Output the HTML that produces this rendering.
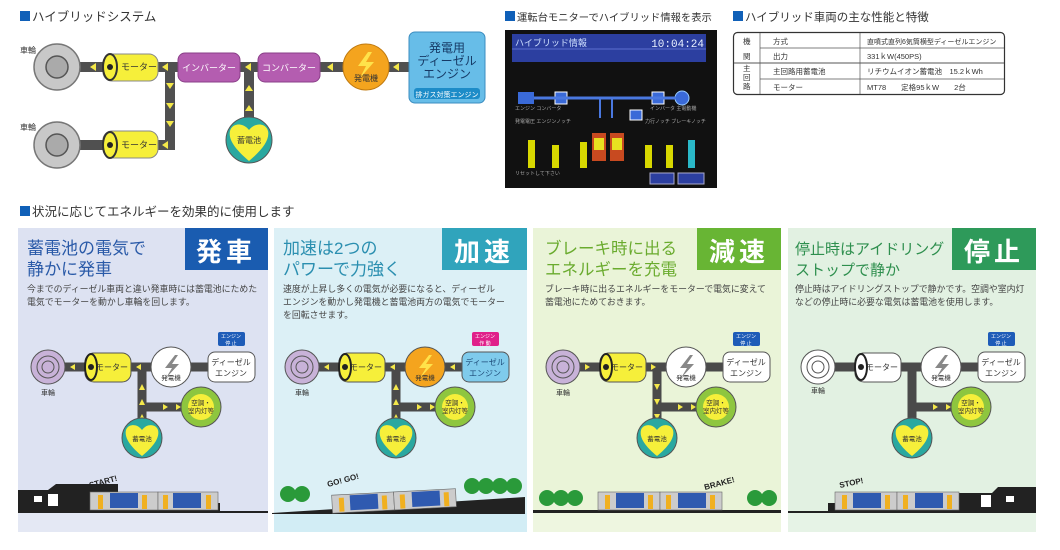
<!DOCTYPE html>
<html><head><meta charset="utf-8">
<style>
html,body{margin:0;padding:0;background:#fff;}
svg{display:block;font-family:"Liberation Sans","Noto Sans CJK JP",sans-serif;}
</style></head><body>
<svg width="1060" height="550" viewBox="0 0 1060 550" xmlns="http://www.w3.org/2000/svg">
<rect width="1060" height="550" fill="#fff"/>

<!-- ===== TOP: Hybrid system ===== -->
<rect x="20" y="11" width="10" height="10" fill="#1060b8"/>
<text x="32" y="21" font-size="12.5" fill="#333">ハイブリッドシステム</text>

<g stroke="#505050" stroke-width="10" fill="none">
  <path d="M57 67 H410"/>
  <path d="M57 145 H170 V67"/>
  <path d="M249 140 V67"/>
</g>
<g fill="#f4e84a">
  <polygon points="90,67 96,63 96,71"/>
  <polygon points="162,67 168,63 168,71"/>
  <polygon points="245,67 251,63 251,71"/>
  <polygon points="327,67 333,63 333,71"/>
  <polygon points="393,67 399,63 399,71"/>
  <polygon points="162,145 168,141 168,149"/>
  <polygon points="166,83 174,83 170,89"/>
  <polygon points="166,103 174,103 170,109"/>
  <polygon points="166,121 174,121 170,127"/>
  <polygon points="245,91 253,91 249,85"/>
  <polygon points="245,111 253,111 249,105"/>
</g>
<g>
  <circle cx="57" cy="67" r="23" fill="#c8c8c8" stroke="#777" stroke-width="1.5"/>
  <circle cx="57" cy="67" r="11" fill="#aaa" stroke="#555" stroke-width="1.5"/>
  <circle cx="57" cy="145" r="23" fill="#c8c8c8" stroke="#777" stroke-width="1.5"/>
  <circle cx="57" cy="145" r="11" fill="#aaa" stroke="#555" stroke-width="1.5"/>
</g>
<text x="20" y="53" font-size="8" fill="#333">車輪</text>
<text x="20" y="130" font-size="8" fill="#333">車輪</text>
<g>
  <rect x="103" y="54" width="55" height="27" rx="9" fill="#f6ef3a" stroke="#888"/>
  <ellipse cx="110" cy="67" rx="7" ry="13" fill="#f6ef3a" stroke="#333" stroke-width="2"/>
  <circle cx="110" cy="67" r="3" fill="#222"/>
  <text x="121" y="70" font-size="9" fill="#333">モーター</text>
  <rect x="103" y="131" width="55" height="27" rx="9" fill="#f6ef3a" stroke="#888"/>
  <ellipse cx="110" cy="145" rx="7" ry="13" fill="#f6ef3a" stroke="#333" stroke-width="2"/>
  <circle cx="110" cy="145" r="3" fill="#222"/>
  <text x="121" y="148" font-size="9" fill="#333">モーター</text>
</g>
<rect x="178" y="53" width="62" height="29" rx="7" fill="#b45db0" stroke="#8a3f88"/>
<text x="209" y="71" font-size="9" fill="#fff" text-anchor="middle">インバーター</text>
<rect x="258" y="53" width="62" height="29" rx="7" fill="#b45db0" stroke="#8a3f88"/>
<text x="289" y="71" font-size="9" fill="#fff" text-anchor="middle">コンバーター</text>
<circle cx="366" cy="67" r="23" fill="#f4a41e" stroke="#c07a10"/>
<polygon points="368,52 358,66 366,66 360,78 374,62 366,62 372,52" fill="#ffe24a"/>
<text x="366" y="81" font-size="8" fill="#333" text-anchor="middle">発電機</text>
<rect x="409" y="32" width="76" height="71" rx="6" fill="#67bde8" stroke="#3b8dc0"/>
<text x="447" y="52" font-size="12" fill="#163a66" text-anchor="middle">発電用</text>
<text x="447" y="65" font-size="12" fill="#163a66" text-anchor="middle">ディーゼル</text>
<text x="447" y="78" font-size="12" fill="#163a66" text-anchor="middle">エンジン</text>
<rect x="414" y="88" width="66" height="11" rx="3" fill="#1d8cc8"/>
<text x="447" y="97" font-size="7" fill="#fff" text-anchor="middle">排ガス対策エンジン</text>
<circle cx="249" cy="140" r="23" fill="#2aa8a0" stroke="#555"/>
<path d="M249 161 C236 150 228 140 230 131 C232 123 243 122 249 130 C255 122 266 123 268 131 C270 140 262 150 249 161Z" fill="#f6ef3a"/>
<text x="249" y="143" font-size="8" fill="#333" text-anchor="middle">蓄電池</text>

<!-- ===== Monitor ===== -->
<rect x="505" y="11" width="10" height="10" fill="#1060b8"/>
<text x="517" y="21" font-size="10.3" fill="#333">運転台モニターでハイブリッド情報を表示</text>
<rect x="505" y="30" width="212" height="158" fill="#111"/>
<rect x="512" y="34" width="194" height="28" fill="#2c3fa0"/>
<text x="515" y="46" font-size="9" fill="#cfe0ff">ハイブリッド情報</text>
<text x="704" y="47" font-size="11" fill="#e8f0ff" text-anchor="end" font-family="Liberation Mono,monospace">10:04:24</text>
<line x1="512" y1="49" x2="706" y2="49" stroke="#8aa0ff" stroke-width="0.6"/>
<rect x="518" y="92" width="16" height="12" fill="#3a6ad8"/>
<rect x="555" y="92" width="12" height="12" fill="#3a6ad8" stroke="#fff"/>
<rect x="652" y="92" width="12" height="12" fill="#3a6ad8" stroke="#fff"/>
<circle cx="682" cy="98" r="7" fill="#3a6ad8" stroke="#9cf"/>
<line x1="534" y1="98" x2="676" y2="98" stroke="#4a78e0" stroke-width="3"/>
<path d="M600 98 V118 M612 98 V118" stroke="#4a78e0" stroke-width="2"/>
<rect x="630" y="110" width="12" height="10" fill="#3a6ad8" stroke="#fff"/>
<g fill="#d8d800">
  <rect x="528" y="140" width="7" height="28"/><rect x="552" y="145" width="7" height="23"/>
  <rect x="580" y="142" width="7" height="26"/><rect x="645" y="145" width="7" height="23"/>
  <rect x="666" y="145" width="7" height="23"/>
</g>
<rect x="688" y="140" width="7" height="28" fill="#2ab8c8"/>
<rect x="592" y="133" width="14" height="28" fill="#c84a20"/>
<rect x="610" y="133" width="14" height="28" fill="#c84a20"/>
<rect x="594" y="138" width="10" height="12" fill="#e8e020"/>
<rect x="612" y="138" width="10" height="12" fill="#e8e020"/>
<g fill="#aaa" font-size="5">
  <text x="515" y="110">エンジン  コンバータ</text>
  <text x="515" y="123">発電電圧 エンジンノッチ</text>
  <text x="650" y="110">インバータ 主電動機</text>
  <text x="645" y="123">力行ノッチ ブレーキノッチ</text>
  <text x="515" y="175">リセットして下さい</text>
</g>
<rect x="650" y="173" width="24" height="11" fill="#2c3fa0" stroke="#aac"/>
<rect x="678" y="173" width="26" height="11" fill="#2c3fa0" stroke="#aac"/>

<!-- ===== Table ===== -->
<rect x="733" y="11" width="10" height="10" fill="#1060b8"/>
<text x="745" y="21" font-size="11.5" fill="#333">ハイブリッド車両の主な性能と特徴</text>
<rect x="733.5" y="32.5" width="271" height="62" rx="4" fill="#fff" stroke="#333" stroke-width="1.2"/>
<g stroke="#555" stroke-width="0.7">
  <line x1="760" y1="33" x2="760" y2="94"/>
  <line x1="860" y1="33" x2="860" y2="94"/>
  <line x1="760" y1="48" x2="1004" y2="48"/>
  <line x1="734" y1="63" x2="1004" y2="63" stroke-width="1.1"/>
  <line x1="760" y1="79" x2="1004" y2="79"/>
</g>
<g font-size="7.5" fill="#333">
  <text x="743" y="44">機</text><text x="743" y="59">関</text>
  <text x="743" y="71">主</text><text x="743" y="80">回</text><text x="743" y="89">路</text>
  <text x="773" y="44">方式</text><text x="773" y="59">出力</text>
  <text x="773" y="74">主回路用蓄電池</text><text x="773" y="90">モーター</text>
  <text x="867" y="44" font-size="7">直噴式直列6気筒横型ディーゼルエンジン</text>
  <text x="867" y="59">331ｋW(450PS)</text>
  <text x="867" y="74">リチウムイオン蓄電池　15.2ｋWh</text>
  <text x="867" y="90">MT78　　定格95ｋW　　2台</text>
</g>

<!-- ===== Section title ===== -->
<rect x="20" y="206" width="10" height="10" fill="#1060b8"/>
<text x="32" y="216" font-size="12.5" fill="#333">状況に応じてエネルギーを効果的に使用します</text>

<!-- ===== PANEL 1 ===== -->
<g transform="translate(18,0)">
  <rect x="0" y="228" width="250" height="304" fill="#dde2f2"/>
  <rect x="0" y="513" width="250" height="19" fill="#e4e8f4"/>
  <rect x="167" y="228" width="83" height="42" fill="#1a5cb0"/>
  <text x="208" y="261" font-size="26" font-weight="bold" fill="#fff" text-anchor="middle" letter-spacing="4">発車</text>
  <text x="9" y="254" font-size="17" fill="#2a5aa8">蓄電池の電気で</text>
  <text x="9" y="275" font-size="17" fill="#2a5aa8">静かに発車</text>
  <text x="9" y="292" font-size="8.9" fill="#444">今までのディーゼル車両と違い発車時には蓄電池にためた</text>
  <text x="9" y="305" font-size="8.9" fill="#444">電気でモーターを動かし車輪を回します。</text>
</g>
<!-- PANEL 2 -->
<g transform="translate(274,0)">
  <rect x="0" y="228" width="253" height="304" fill="#dcf0f6"/>
  <rect x="0" y="513" width="253" height="19" fill="#d2edf5"/>
  <rect x="168" y="228" width="85" height="42" fill="#30a4bc"/>
  <text x="210" y="261" font-size="26" font-weight="bold" fill="#fff" text-anchor="middle" letter-spacing="4">加速</text>
  <text x="9" y="254" font-size="17" fill="#2b8fb0">加速は2つの</text>
  <text x="9" y="275" font-size="17" fill="#2b8fb0">パワーで力強く</text>
  <text x="9" y="292" font-size="8.9" fill="#444">速度が上昇し多くの電気が必要になると、ディーゼル</text>
  <text x="9" y="305" font-size="8.9" fill="#444">エンジンを動かし発電機と蓄電池両方の電気でモーター</text>
  <text x="9" y="318" font-size="8.9" fill="#444">を回転させます。</text>
</g>
<!-- PANEL 3 -->
<g transform="translate(533,0)">
  <rect x="0" y="228" width="248" height="304" fill="#eaf4d8"/>
  <rect x="0" y="513" width="248" height="19" fill="#eef6e0"/>
  <rect x="164" y="228" width="84" height="42" fill="#68b534"/>
  <text x="206" y="261" font-size="26" font-weight="bold" fill="#fff" text-anchor="middle" letter-spacing="4">減速</text>
  <text x="12" y="254" font-size="16.5" fill="#6aab2e">ブレーキ時に出る</text>
  <text x="12" y="275" font-size="16.5" fill="#6aab2e">エネルギーを充電</text>
  <text x="12" y="292" font-size="8.9" fill="#444">ブレーキ時に出るエネルギーをモーターで電気に変えて</text>
  <text x="12" y="305" font-size="8.9" fill="#444">蓄電池にためておきます。</text>
</g>
<!-- PANEL 4 -->
<g transform="translate(788,0)">
  <rect x="0" y="228" width="248" height="304" fill="#e2f1e2"/>
  <rect x="0" y="513" width="248" height="19" fill="#e6f3e6"/>
  <rect x="164" y="228" width="84" height="42" fill="#2e9a5a"/>
  <text x="206" y="261" font-size="26" font-weight="bold" fill="#fff" text-anchor="middle" letter-spacing="4">停止</text>
  <text x="7" y="254" font-size="15" fill="#2e8f4e">停止時はアイドリング</text>
  <text x="7" y="275" font-size="15" fill="#2e8f4e">ストップで静か</text>
  <text x="7" y="292" font-size="8.9" fill="#444">停止時はアイドリングストップで静かです。空調や室内灯</text>
  <text x="7" y="305" font-size="8.9" fill="#444">などの停止時に必要な電気は蓄電池を使用します。</text>
</g>

<!-- P1 diagram -->
<g transform="translate(18,0)">
  <path d="M30 367 H195 M124 367 V438 M124 407 H183" stroke="#4a4a4a" stroke-width="9" fill="none"/>
  <g fill="#f4e84a"><polygon points="52,367 57,364 57,370"/><polygon points="118,367 123,364 123,370"/>
  <polygon points="121,390 127,390 124,384"/><polygon points="121,405 127,405 124,399"/><polygon points="121,420 127,420 124,414"/>
  <polygon points="145,404 145,410 150,407"/><polygon points="158,404 158,410 163,407"/><polygon points="171,404 171,410 176,407"/></g>
  <circle cx="30" cy="367" r="17" fill="#c8b2d8" stroke="#555"/><circle cx="30" cy="367" r="11" fill="none" stroke="#555"/><circle cx="30" cy="367" r="6" fill="none" stroke="#555"/>
  <text x="30" y="395" font-size="7" fill="#333" text-anchor="middle">車輪</text>
  <rect x="67" y="353" width="46" height="29" rx="9" fill="#f6ef3a" stroke="#555"/><ellipse cx="73" cy="367" rx="6" ry="13" fill="#f6ef3a" stroke="#222" stroke-width="2"/><circle cx="73" cy="367" r="3" fill="#222"/>
  <text x="94" y="370" font-size="8" fill="#333" text-anchor="middle">モーター</text>
  <circle cx="153" cy="367" r="20" fill="#fff" stroke="#555"/><polygon points="157,355 147,368 154,368 148,378 161,364 154,364 160,355" fill="#888"/><text x="153" y="380" font-size="6.5" fill="#333" text-anchor="middle">発電機</text>
  <rect x="190" y="352" width="47" height="30" rx="7" fill="#fff" stroke="#555"/><text x="213" y="365" font-size="8" fill="#333" text-anchor="middle">ディーゼル</text><text x="213" y="376" font-size="8" fill="#333" text-anchor="middle">エンジン</text>
  <rect x="200" y="332" width="27" height="14" rx="2" fill="#1e5cb8"/><text x="213" y="338" font-size="5" fill="#fff" text-anchor="middle">エンジン</text><text x="213" y="345" font-size="5" fill="#fff" text-anchor="middle">停 止</text>
  <circle cx="183" cy="407" r="20" fill="#8ec63f" stroke="#555"/><circle cx="183" cy="407" r="13" fill="#f6ef3a"/><text x="183" y="405" font-size="6.5" fill="#333" text-anchor="middle">空調・</text><text x="183" y="413" font-size="6.5" fill="#333" text-anchor="middle">室内灯等</text>
  <circle cx="124" cy="438" r="20" fill="#2aa8a0" stroke="#555"/><path d="M124 456 C113 447 106 438 108 430 C110 424 119 423 124 430 C129 423 138 424 140 430 C142 438 135 447 124 456Z" fill="#f6ef3a"/><text x="124" y="441" font-size="6.5" fill="#333" text-anchor="middle">蓄電池</text>
  <path d="M0 490 H30 L38 484 L100 484 V512 H0Z" fill="#222"/><rect x="100" y="503" width="102" height="9" fill="#222"/>
  <rect x="16" y="496" width="8" height="6" fill="#fff"/><rect x="30" y="494" width="10" height="12" fill="#fff"/>
  <rect x="72" y="492" width="68" height="18" fill="#ccc" stroke="#666" stroke-width="0.6"/><rect x="140" y="492" width="60" height="18" fill="#ccc" stroke="#666" stroke-width="0.6"/>
  <rect x="92" y="493" width="28" height="15" fill="#2f5ab0"/><rect x="155" y="493" width="28" height="15" fill="#2f5ab0"/>
  <rect x="80" y="495" width="5" height="14" fill="#f0b020"/><rect x="124" y="495" width="5" height="14" fill="#f0b020"/><rect x="145" y="495" width="5" height="14" fill="#f0b020"/><rect x="188" y="495" width="5" height="14" fill="#f0b020"/>
  <text x="72" y="488" font-size="8" font-weight="bold" fill="#222" transform="rotate(-15 72 488)">START!</text>
  <rect x="0" y="511" width="250" height="2" fill="#222"/>
</g>
<!-- P2 diagram -->
<g transform="translate(272,0)">
  <path d="M30 367 H205 M124 367 V438 M124 407 H183" stroke="#4a4a4a" stroke-width="9" fill="none"/>
  <g fill="#f4e84a"><polygon points="52,367 57,364 57,370"/><polygon points="118,367 123,364 123,370"/><polygon points="178,367 183,364 183,370"/>
  <polygon points="121,390 127,390 124,384"/><polygon points="121,405 127,405 124,399"/><polygon points="121,420 127,420 124,414"/>
  <polygon points="145,404 145,410 150,407"/><polygon points="158,404 158,410 163,407"/><polygon points="171,404 171,410 176,407"/></g>
  <circle cx="30" cy="367" r="17" fill="#c8b2d8" stroke="#555"/><circle cx="30" cy="367" r="11" fill="none" stroke="#555"/><circle cx="30" cy="367" r="6" fill="none" stroke="#555"/>
  <text x="30" y="395" font-size="7" fill="#333" text-anchor="middle">車輪</text>
  <rect x="67" y="353" width="46" height="29" rx="9" fill="#f6ef3a" stroke="#555"/><ellipse cx="73" cy="367" rx="6" ry="13" fill="#f6ef3a" stroke="#222" stroke-width="2"/><circle cx="73" cy="367" r="3" fill="#222"/>
  <text x="94" y="370" font-size="8" fill="#333" text-anchor="middle">モーター</text>
  <circle cx="153" cy="367" r="20" fill="#f4a41e" stroke="#555"/><polygon points="157,355 147,368 154,368 148,378 161,364 154,364 160,355" fill="#ffe24a"/><text x="153" y="380" font-size="6.5" fill="#333" text-anchor="middle">発電機</text>
  <rect x="190" y="352" width="47" height="30" rx="7" fill="#7fcbec" stroke="#555"/><text x="213" y="365" font-size="8" fill="#1d4a77" text-anchor="middle">ディーゼル</text><text x="213" y="376" font-size="8" fill="#1d4a77" text-anchor="middle">エンジン</text>
  <rect x="200" y="332" width="27" height="14" rx="2" fill="#e0208a"/><text x="213" y="338" font-size="5" fill="#fff" text-anchor="middle">エンジン</text><text x="213" y="345" font-size="5" fill="#fff" text-anchor="middle">作 動</text>
  <circle cx="183" cy="407" r="20" fill="#8ec63f" stroke="#555"/><circle cx="183" cy="407" r="13" fill="#f6ef3a"/><text x="183" y="405" font-size="6.5" fill="#333" text-anchor="middle">空調・</text><text x="183" y="413" font-size="6.5" fill="#333" text-anchor="middle">室内灯等</text>
  <circle cx="124" cy="438" r="20" fill="#2aa8a0" stroke="#555"/><path d="M124 456 C113 447 106 438 108 430 C110 424 119 423 124 430 C129 423 138 424 140 430 C142 438 135 447 124 456Z" fill="#f6ef3a"/><text x="124" y="441" font-size="6.5" fill="#333" text-anchor="middle">蓄電池</text>
  <g fill="#2a9a3a"><circle cx="16" cy="494" r="8"/><circle cx="30" cy="494" r="8"/><circle cx="200" cy="486" r="8"/><circle cx="214" cy="486" r="8"/><circle cx="228" cy="486" r="8"/><circle cx="242" cy="486" r="8"/></g>
  <polygon points="0,513 253,497 253,514 0,514" fill="#222"/>
  <g transform="rotate(-3 140 500)">
  <rect x="60" y="491" width="62" height="18" fill="#ccc" stroke="#666" stroke-width="0.6"/><rect x="122" y="491" width="62" height="18" fill="#ccc" stroke="#666" stroke-width="0.6"/>
  <rect x="78" y="492" width="28" height="15" fill="#2f5ab0"/><rect x="140" y="492" width="28" height="15" fill="#2f5ab0"/>
  <rect x="67" y="494" width="5" height="14" fill="#f0b020"/><rect x="110" y="494" width="5" height="14" fill="#f0b020"/><rect x="128" y="494" width="5" height="14" fill="#f0b020"/><rect x="172" y="494" width="5" height="14" fill="#f0b020"/>
  </g>
  <text x="56" y="487" font-size="8" font-weight="bold" fill="#222" transform="rotate(-15 56 487)">GO! GO!</text>
</g>
<!-- P3 diagram -->
<g transform="translate(533,0)">
  <path d="M30 367 H195 M124 367 V438 M124 407 H183" stroke="#4a4a4a" stroke-width="9" fill="none"/>
  <g fill="#f4e84a"><polygon points="57,367 52,364 52,370"/><polygon points="123,367 118,364 118,370"/>
  <polygon points="121,384 127,384 124,390"/><polygon points="121,399 127,399 124,405"/><polygon points="121,414 127,414 124,420"/>
  <polygon points="145,404 145,410 150,407"/><polygon points="158,404 158,410 163,407"/><polygon points="171,404 171,410 176,407"/></g>
  <circle cx="30" cy="367" r="17" fill="#c8b2d8" stroke="#555"/><circle cx="30" cy="367" r="11" fill="none" stroke="#555"/><circle cx="30" cy="367" r="6" fill="none" stroke="#555"/>
  <text x="30" y="395" font-size="7" fill="#333" text-anchor="middle">車輪</text>
  <rect x="67" y="353" width="46" height="29" rx="9" fill="#f6ef3a" stroke="#555"/><ellipse cx="73" cy="367" rx="6" ry="13" fill="#f6ef3a" stroke="#222" stroke-width="2"/><circle cx="73" cy="367" r="3" fill="#222"/>
  <text x="94" y="370" font-size="8" fill="#333" text-anchor="middle">モーター</text>
  <circle cx="153" cy="367" r="20" fill="#fff" stroke="#555"/><polygon points="157,355 147,368 154,368 148,378 161,364 154,364 160,355" fill="#888"/><text x="153" y="380" font-size="6.5" fill="#333" text-anchor="middle">発電機</text>
  <rect x="190" y="352" width="47" height="30" rx="7" fill="#fff" stroke="#555"/><text x="213" y="365" font-size="8" fill="#333" text-anchor="middle">ディーゼル</text><text x="213" y="376" font-size="8" fill="#333" text-anchor="middle">エンジン</text>
  <rect x="200" y="332" width="27" height="14" rx="2" fill="#1e5cb8"/><text x="213" y="338" font-size="5" fill="#fff" text-anchor="middle">エンジン</text><text x="213" y="345" font-size="5" fill="#fff" text-anchor="middle">停 止</text>
  <circle cx="183" cy="407" r="20" fill="#8ec63f" stroke="#555"/><circle cx="183" cy="407" r="13" fill="#f6ef3a"/><text x="183" y="405" font-size="6.5" fill="#333" text-anchor="middle">空調・</text><text x="183" y="413" font-size="6.5" fill="#333" text-anchor="middle">室内灯等</text>
  <circle cx="124" cy="438" r="20" fill="#2aa8a0" stroke="#555"/><path d="M124 456 C113 447 106 438 108 430 C110 424 119 423 124 430 C129 423 138 424 140 430 C142 438 135 447 124 456Z" fill="#f6ef3a"/><text x="124" y="441" font-size="6.5" fill="#333" text-anchor="middle">蓄電池</text>
  <g fill="#2a9a3a"><circle cx="14" cy="498" r="8"/><circle cx="28" cy="498" r="8"/><circle cx="42" cy="498" r="8"/><circle cx="222" cy="498" r="8"/><circle cx="236" cy="498" r="8"/></g>
  <rect x="0" y="510" width="248" height="3" fill="#222"/>
  <rect x="65" y="492" width="62" height="18" fill="#ccc" stroke="#666" stroke-width="0.6"/><rect x="127" y="492" width="62" height="18" fill="#ccc" stroke="#666" stroke-width="0.6"/>
  <rect x="83" y="493" width="28" height="15" fill="#2f5ab0"/><rect x="145" y="493" width="28" height="15" fill="#2f5ab0"/>
  <rect x="72" y="495" width="5" height="14" fill="#f0b020"/><rect x="115" y="495" width="5" height="14" fill="#f0b020"/><rect x="133" y="495" width="5" height="14" fill="#f0b020"/><rect x="177" y="495" width="5" height="14" fill="#f0b020"/>
  <text x="172" y="490" font-size="8" font-weight="bold" fill="#222" transform="rotate(-15 172 490)">BRAKE!</text>
</g>
<!-- P4 diagram -->
<g transform="translate(788,0)">
  <path d="M30 367 H195 M124 367 V438 M124 407 H183" stroke="#4a4a4a" stroke-width="9" fill="none"/>
  <g fill="#f4e84a"><polygon points="121,426 127,426 124,420"/>
  <polygon points="145,404 145,410 150,407"/><polygon points="158,404 158,410 163,407"/><polygon points="171,404 171,410 176,407"/></g>
  <circle cx="30" cy="367" r="17" fill="#fff" stroke="#555"/><circle cx="30" cy="367" r="11" fill="none" stroke="#555"/><circle cx="30" cy="367" r="6" fill="none" stroke="#555"/>
  <text x="30" y="393" font-size="7" fill="#333" text-anchor="middle">車輪</text>
  <rect x="67" y="353" width="46" height="29" rx="9" fill="#fff" stroke="#555"/><ellipse cx="73" cy="367" rx="6" ry="13" fill="#fff" stroke="#222" stroke-width="2"/><circle cx="73" cy="367" r="3" fill="#222"/>
  <text x="94" y="370" font-size="8" fill="#333" text-anchor="middle">モーター</text>
  <circle cx="153" cy="367" r="20" fill="#fff" stroke="#555"/><polygon points="157,355 147,368 154,368 148,378 161,364 154,364 160,355" fill="#888"/><text x="153" y="380" font-size="6.5" fill="#333" text-anchor="middle">発電機</text>
  <rect x="190" y="352" width="47" height="30" rx="7" fill="#fff" stroke="#555"/><text x="213" y="365" font-size="8" fill="#333" text-anchor="middle">ディーゼル</text><text x="213" y="376" font-size="8" fill="#333" text-anchor="middle">エンジン</text>
  <rect x="200" y="332" width="27" height="14" rx="2" fill="#1e5cb8"/><text x="213" y="338" font-size="5" fill="#fff" text-anchor="middle">エンジン</text><text x="213" y="345" font-size="5" fill="#fff" text-anchor="middle">停 止</text>
  <circle cx="183" cy="407" r="20" fill="#8ec63f" stroke="#555"/><circle cx="183" cy="407" r="13" fill="#f6ef3a"/><text x="183" y="405" font-size="6.5" fill="#333" text-anchor="middle">空調・</text><text x="183" y="413" font-size="6.5" fill="#333" text-anchor="middle">室内灯等</text>
  <circle cx="124" cy="438" r="20" fill="#2aa8a0" stroke="#555"/><path d="M124 456 C113 447 106 438 108 430 C110 424 119 423 124 430 C129 423 138 424 140 430 C142 438 135 447 124 456Z" fill="#f6ef3a"/><text x="124" y="441" font-size="6.5" fill="#333" text-anchor="middle">蓄電池</text>
  <rect x="40" y="503" width="160" height="9" fill="#222"/>
  <path d="M248 487 H210 L204 493 L158 493 V512 H248Z" fill="#222"/>
  <rect x="218" y="496" width="8" height="6" fill="#fff"/><rect x="193" y="495" width="10" height="12" fill="#fff"/>
  <rect x="47" y="492" width="62" height="18" fill="#ccc" stroke="#666" stroke-width="0.6"/><rect x="109" y="492" width="62" height="18" fill="#ccc" stroke="#666" stroke-width="0.6"/>
  <rect x="65" y="493" width="28" height="15" fill="#2f5ab0"/><rect x="127" y="493" width="28" height="15" fill="#2f5ab0"/>
  <rect x="54" y="495" width="5" height="14" fill="#f0b020"/><rect x="97" y="495" width="5" height="14" fill="#f0b020"/><rect x="115" y="495" width="5" height="14" fill="#f0b020"/><rect x="159" y="495" width="5" height="14" fill="#f0b020"/>
  <text x="52" y="488" font-size="8" font-weight="bold" fill="#222" transform="rotate(-12 52 488)">STOP!</text>
  <rect x="0" y="511" width="248" height="2" fill="#222"/>
</g>
</svg>
</body></html>
